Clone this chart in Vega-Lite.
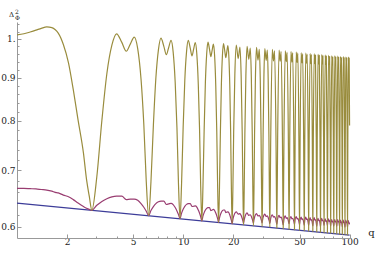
{
  "$schema": "https://vega.github.io/schema/vega-lite/v6.json",
  "width": 334,
  "height": 216,
  "autosize": {"type": "none"},
  "padding": {"left": 17, "top": 22, "right": 24, "bottom": 15},
  "background": "white",
  "config": {"view": {"stroke": null}},
  "title": {"text": "2", "subtitle": "Φ", "anchor": "start", "frame": "group", "orient": "top", "offset": 2, "dx": -2, "dy": 12.5, "fontSize": 6, "subtitleFontSize": 6, "font": "DejaVu Serif", "subtitleFont": "DejaVu Serif", "fontWeight": "normal", "subtitlePadding": 0.5, "color": "#222", "subtitleColor": "#222"},
  "datasets": {
    "blue": [{"q": 1, "b": 0.640}, {"q": 10, "b": 0.6128}, {"q": 100, "b": 0.5866}],
    "curves": [
      {"q":1,"g":1.011,"p":0.666},{"q":1.1,"g":1.014,"p":0.666},{"q":1.2,"g":1.019,"p":0.6655},{"q":1.3,"g":1.024,"p":0.665},{"q":1.4,"g":1.029,"p":0.664},{"q":1.51,"g":1.033,"p":0.663},{"q":1.62,"g":1.031,"p":0.661},{"q":1.7,"g":1.025,"p":0.659},{"q":1.77,"g":1.016,"p":0.658},{"q":1.9,"g":0.985,"p":0.654},{"q":2.04,"g":0.937,"p":0.651},{"q":2.18,"g":0.871,"p":0.646},{"q":2.33,"g":0.802,"p":0.64},{"q":2.51,"g":0.733,"p":0.634},{"q":2.62,"g":0.682,"p":0.631},{"q":2.72,"g":0.652,"p":0.629},{"q":2.82,"g":0.6276,"p":0.6276},
      {"q":3.02,"g":0.6875,"p":0.6361},{"q":3.24,"g":0.8015,"p":0.6427},{"q":3.47,"g":0.9097,"p":0.6476},{"q":3.72,"g":0.9831,"p":0.6508},{"q":3.97,"g":1.014,"p":0.652},{"q":4.27,"g":0.9905,"p":0.652},{"q":4.54,"g":0.967,"p":0.646},{"q":4.8,"g":0.986,"p":0.647},{"q":5.07,"g":1.005,"p":0.647},{"q":5.32,"g":0.9741,"p":0.6447},{"q":5.57,"g":0.8967,"p":0.639},{"q":5.79,"g":0.7923,"p":0.6327},{"q":5.99,"g":0.6782,"p":0.626},{"q":6.19,"g":0.6183,"p":0.6183},
      {"q":6.39,"g":0.6778,"p":0.6271},{"q":6.61,"g":0.791,"p":0.6339},{"q":6.84,"g":0.8984,"p":0.639},{"q":7.09,"g":0.9713,"p":0.6422},{"q":7.34,"g":1.002,"p":0.6435},{"q":7.64,"g":0.98,"p":0.6435},{"q":7.91,"g":0.958,"p":0.6375},{"q":8.17,"g":0.977,"p":0.6385},{"q":8.44,"g":0.996,"p":0.6395},{"q":8.69,"g":0.9654,"p":0.6374},{"q":8.94,"g":0.8888,"p":0.6322},{"q":9.16,"g":0.7855,"p":0.6264},{"q":9.36,"g":0.6726,"p":0.6204},{"q":9.56,"g":0.6133,"p":0.6133},
      {"q":9.76,"g":0.6726,"p":0.6223},{"q":9.98,"g":0.7855,"p":0.6292},{"q":10.21,"g":0.8927,"p":0.6344},{"q":10.46,"g":0.9654,"p":0.6377},{"q":10.71,"g":0.996,"p":0.639},{"q":11.01,"g":0.9755,"p":0.639},{"q":11.28,"g":0.955,"p":0.634},{"q":11.54,"g":0.9725,"p":0.6345},{"q":11.81,"g":0.99,"p":0.635},{"q":12.06,"g":0.9596,"p":0.633},{"q":12.31,"g":0.8835,"p":0.6279},{"q":12.53,"g":0.7809,"p":0.6224},{"q":12.73,"g":0.6687,"p":0.6166},{"q":12.93,"g":0.6098,"p":0.6098},
      {"q":13.13,"g":0.6689,"p":0.6176},{"q":13.35,"g":0.7813,"p":0.6236},{"q":13.58,"g":0.8881,"p":0.628},{"q":13.83,"g":0.9605,"p":0.6309},{"q":14.08,"g":0.991,"p":0.632},{"q":14.38,"g":0.972,"p":0.632},{"q":14.65,"g":0.953,"p":0.627},{"q":14.91,"g":0.9695,"p":0.628},{"q":15.18,"g":0.986,"p":0.629},{"q":15.43,"g":0.9557,"p":0.6272},{"q":15.68,"g":0.8799,"p":0.6229},{"q":15.9,"g":0.7776,"p":0.6181},{"q":16.1,"g":0.6658,"p":0.613},{"q":16.3,"g":0.6071,"p":0.6071},
      {"q":16.5,"g":0.666,"p":0.6144},{"q":16.72,"g":0.7781,"p":0.6201},{"q":16.95,"g":0.8844,"p":0.6242},{"q":17.2,"g":0.9566,"p":0.627},{"q":17.45,"g":0.987,"p":0.628},{"q":17.75,"g":0.9685,"p":0.628},{"q":18.02,"g":0.95,"p":0.6235},{"q":18.28,"g":0.966,"p":0.6245},{"q":18.55,"g":0.982,"p":0.625},{"q":18.8,"g":0.9518,"p":0.6234},{"q":19.05,"g":0.8764,"p":0.6194},{"q":19.27,"g":0.7747,"p":0.615},{"q":19.47,"g":0.6634,"p":0.6104},{"q":19.67,"g":0.605,"p":0.605},
      {"q":19.87,"g":0.6636,"p":0.612},{"q":20.09,"g":0.7751,"p":0.6174},{"q":20.42,"g":0.9074,"p":0.6226},{"q":20.82,"g":0.983,"p":0.625},{"q":21.39,"g":0.948,"p":0.621},{"q":21.92,"g":0.978,"p":0.622},{"q":22.29,"g":0.903,"p":0.6186},{"q":22.62,"g":0.7719,"p":0.6136},{"q":22.84,"g":0.6613,"p":0.6097},{"q":23.04,"g":0.6032,"p":0.6052},
      {"q":23.24,"g":0.6616,"p":0.6114},{"q":23.46,"g":0.7728,"p":0.6162},{"q":23.79,"g":0.9046,"p":0.6209},{"q":24.19,"g":0.98,"p":0.623},{"q":24.76,"g":0.946,"p":0.619},{"q":25.29,"g":0.975,"p":0.62},{"q":25.66,"g":0.9003,"p":0.6171},{"q":25.99,"g":0.7696,"p":0.6128},{"q":26.21,"g":0.6595,"p":0.6095},{"q":26.41,"g":0.6016,"p":0.6056},
      {"q":26.61,"g":0.6598,"p":0.6113},{"q":26.83,"g":0.7705,"p":0.6158},{"q":27.16,"g":0.9019,"p":0.62},{"q":27.56,"g":0.977,"p":0.622},{"q":28.13,"g":0.944,"p":0.618},{"q":28.66,"g":0.972,"p":0.619},{"q":29.03,"g":0.8976,"p":0.6164},{"q":29.36,"g":0.7675,"p":0.6126},{"q":29.58,"g":0.6578,"p":0.6097},{"q":29.78,"g":0.6002,"p":0.6062},
      {"q":29.98,"g":0.6581,"p":0.6114},{"q":30.2,"g":0.7684,"p":0.6154},{"q":30.53,"g":0.8992,"p":0.6192},{"q":30.93,"g":0.974,"p":0.621},{"q":31.5,"g":0.943,"p":0.617},{"q":32.03,"g":0.97,"p":0.618},{"q":32.4,"g":0.8958,"p":0.6154},{"q":32.73,"g":0.766,"p":0.6115},{"q":32.95,"g":0.6565,"p":0.6085},{"q":33.15,"g":0.599,"p":0.605},
      {"q":33.57,"g":0.7669,"p":0.6143},{"q":34.3,"g":0.972,"p":0.62},{"q":34.87,"g":0.942,"p":0.616},{"q":35.4,"g":0.968,"p":0.617},{"q":36.1,"g":0.7644,"p":0.6105},{"q":36.52,"g":0.5979,"p":0.6039},
      {"q":36.94,"g":0.7653,"p":0.6133},{"q":37.67,"g":0.97,"p":0.619},{"q":38.24,"g":0.941,"p":0.615},{"q":38.77,"g":0.966,"p":0.616},{"q":39.47,"g":0.763,"p":0.6095},{"q":39.89,"g":0.5969,"p":0.6029},
      {"q":40.31,"g":0.7639,"p":0.6123},{"q":41.04,"g":0.968,"p":0.618},{"q":41.61,"g":0.94,"p":0.614},{"q":42.14,"g":0.964,"p":0.615},{"q":42.84,"g":0.7616,"p":0.61},{"q":43.26,"g":0.596,"p":0.605},
      {"q":43.68,"g":0.7625,"p":0.6124},{"q":44.41,"g":0.966,"p":0.617},{"q":44.98,"g":0.939,"p":0.613},{"q":45.51,"g":0.963,"p":0.614},{"q":46.21,"g":0.7607,"p":0.6091},{"q":46.63,"g":0.5951,"p":0.6041},
      {"q":47.05,"g":0.7616,"p":0.6121},{"q":47.78,"g":0.965,"p":0.617},{"q":48.35,"g":0.938,"p":0.613},{"q":48.88,"g":0.962,"p":0.614},{"q":49.58,"g":0.7598,"p":0.6087},{"q":50,"g":0.5944,"p":0.6034},
      {"q":50.42,"g":0.7603,"p":0.6112},{"q":51.15,"g":0.963,"p":0.616},{"q":51.72,"g":0.937,"p":0.612},{"q":52.25,"g":0.96,"p":0.613},{"q":52.95,"g":0.7585,"p":0.6078},{"q":53.37,"g":0.5936,"p":0.6026},
      {"q":53.79,"g":0.7594,"p":0.6109},{"q":54.52,"g":0.962,"p":0.616},{"q":55.09,"g":0.936,"p":0.612},{"q":55.62,"g":0.959,"p":0.613},{"q":56.32,"g":0.7576,"p":0.6075},{"q":56.74,"g":0.5929,"p":0.6019},
      {"q":57.16,"g":0.7585,"p":0.61},{"q":57.89,"g":0.961,"p":0.615},{"q":58.46,"g":0.935,"p":0.611},{"q":58.99,"g":0.958,"p":0.612},{"q":59.69,"g":0.7569,"p":0.6067},{"q":60.11,"g":0.5923,"p":0.6013},
      {"q":60.53,"g":0.7578,"p":0.6098},{"q":61.26,"g":0.96,"p":0.615},{"q":61.83,"g":0.935,"p":0.611},{"q":62.36,"g":0.957,"p":0.612},{"q":63.06,"g":0.756,"p":0.6063},{"q":63.48,"g":0.5916,"p":0.6006},
      {"q":63.9,"g":0.7569,"p":0.6089},{"q":64.63,"g":0.959,"p":0.614},{"q":65.2,"g":0.934,"p":0.61},{"q":65.73,"g":0.956,"p":0.611},{"q":66.43,"g":0.7553,"p":0.6055},{"q":66.85,"g":0.591,"p":0.6},
      {"q":67.27,"g":0.7562,"p":0.6087},{"q":68,"g":0.958,"p":0.614},{"q":68.57,"g":0.934,"p":0.61},{"q":69.1,"g":0.955,"p":0.611},{"q":69.8,"g":0.7545,"p":0.6068},{"q":70.22,"g":0.5905,"p":0.6025},
      {"q":70.64,"g":0.7554,"p":0.609},{"q":71.37,"g":0.957,"p":0.613},{"q":71.94,"g":0.933,"p":0.609},{"q":72.47,"g":0.954,"p":0.61},{"q":73.17,"g":0.7538,"p":0.606},{"q":73.59,"g":0.59,"p":0.602},
      {"q":74.01,"g":0.7547,"p":0.6088},{"q":74.74,"g":0.956,"p":0.613},{"q":75.31,"g":0.933,"p":0.609},{"q":75.84,"g":0.953,"p":0.61},{"q":76.54,"g":0.7531,"p":0.6058},{"q":76.96,"g":0.5895,"p":0.6015},
      {"q":77.38,"g":0.754,"p":0.608},{"q":78.11,"g":0.955,"p":0.612},{"q":78.68,"g":0.932,"p":0.608},{"q":79.21,"g":0.952,"p":0.609},{"q":79.91,"g":0.7524,"p":0.605},{"q":80.33,"g":0.589,"p":0.601},
      {"q":80.75,"g":0.7537,"p":0.6078},{"q":81.48,"g":0.955,"p":0.612},{"q":82.05,"g":0.932,"p":0.608},{"q":82.58,"g":0.952,"p":0.609},{"q":83.28,"g":0.7521,"p":0.6048},{"q":83.7,"g":0.5886,"p":0.6006},
      {"q":84.12,"g":0.753,"p":0.6077},{"q":84.85,"g":0.954,"p":0.612},{"q":85.42,"g":0.931,"p":0.608},{"q":85.95,"g":0.951,"p":0.609},{"q":86.65,"g":0.7514,"p":0.6046},{"q":87.07,"g":0.5881,"p":0.6001},
      {"q":87.49,"g":0.7523,"p":0.6069},{"q":88.22,"g":0.953,"p":0.611},{"q":88.79,"g":0.931,"p":0.607},{"q":89.32,"g":0.95,"p":0.608},{"q":90.02,"g":0.7507,"p":0.6039},{"q":90.44,"g":0.5877,"p":0.5997},
      {"q":90.86,"g":0.7521,"p":0.6067},{"q":91.59,"g":0.953,"p":0.611},{"q":92.16,"g":0.93,"p":0.607},{"q":92.69,"g":0.95,"p":0.608},{"q":93.39,"g":0.7505,"p":0.6037},{"q":93.81,"g":0.5873,"p":0.5993},
      {"q":94.23,"g":0.7514,"p":0.6066},{"q":94.96,"g":0.952,"p":0.611},{"q":95.53,"g":0.93,"p":0.607},{"q":96.06,"g":0.949,"p":0.608},{"q":96.76,"g":0.7498,"p":0.6035},{"q":97.18,"g":0.5869,"p":0.5989},
      {"q":97.6,"g":0.7512,"p":0.6058},{"q":98.33,"g":0.952,"p":0.61},{"q":98.9,"g":0.93,"p":0.606},{"q":99.43,"g":0.949,"p":0.607},{"q":100,"g":0.79,"p":0.604}
    ]
  },
  "encoding": {
    "x": {
      "field": "q",
      "type": "quantitative",
      "scale": {"type": "log", "domain": [1, 102], "nice": false},
      "axis": {
        "values": [2, 3, 4, 5, 6, 7, 8, 9, 10, 20, 30, 40, 50, 60, 70, 80, 90, 100],
        "labelExpr": "indexof([2, 5, 10, 20, 50, 100], datum.value) >= 0 ? '' + datum.value : ''",
        "tickSize": {"condition": {"test": "indexof([2, 5, 10, 20, 50, 100], datum.value) >= 0", "value": -4}, "value": -2},
        "grid": false,
        "domainColor": "#999999",
        "tickColor": "#999999",
        "labelFont": "DejaVu Serif",
        "labelFontSize": 9,
        "labelColor": "#222222",
        "labelPadding": 3,
        "labelFlush": false,
        "labelOverlap": false,
        "title": "q",
        "titleFont": "DejaVu Serif",
        "titleFontSize": 10,
        "titleFontWeight": "normal",
        "titleColor": "#222222",
        "titleX": 354,
        "titleY": -3,
        "titleAlign": "center",
        "titleBaseline": "alphabetic",
        "titleAngle": 0
      }
    }
  },
  "layer": [
    {
      "data": {"name": "blue"},
      "mark": {"type": "line", "color": "#3D3D99", "strokeWidth": 1.2, "strokeJoin": "round"},
      "encoding": {
        "y": {
          "field": "b",
          "type": "quantitative",
          "scale": {"type": "log", "domain": [0.582, 1.047], "nice": false},
          "axis": {
            "values": [0.6, 0.62, 0.64, 0.66, 0.68, 0.7, 0.72, 0.74, 0.76, 0.78, 0.8, 0.82, 0.84, 0.86, 0.88, 0.9, 0.92, 0.94, 0.96, 0.98, 1, 1.02, 1.04],
            "labelExpr": "datum.value == 1 ? '1.' : (indexof([0.6, 0.7, 0.8, 0.9], datum.value) >= 0 ? format(datum.value, '.1f') : '')",
            "tickSize": {"condition": {"test": "indexof([0.6, 0.7, 0.8, 0.9, 1], datum.value) >= 0", "value": -4}, "value": -2},
            "grid": false,
            "domainColor": "#999999",
            "tickColor": "#999999",
            "labelFont": "DejaVu Serif",
            "labelFontSize": 9,
            "labelColor": "#222222",
            "labelPadding": 6,
            "labelFlush": false,
            "labelOverlap": false,
            "title": "Δ",
            "titleFont": "DejaVu Serif",
            "titleFontSize": 7,
            "titleFontWeight": "normal",
            "titleColor": "#222222",
            "titleAngle": 0,
            "titleAlign": "left",
            "titleBaseline": "alphabetic",
            "titleX": -8.5,
            "titleY": -5.5
          }
        }
      }
    },
    {
      "data": {"name": "curves"},
      "mark": {"type": "line", "color": "#993D71", "strokeWidth": 1.2, "strokeJoin": "round", "interpolate": "monotone"},
      "encoding": {"y": {"field": "p", "type": "quantitative"}}
    },
    {
      "data": {"name": "curves"},
      "mark": {"type": "line", "color": "#998C3D", "strokeWidth": 1.2, "strokeJoin": "round", "interpolate": "monotone"},
      "encoding": {"y": {"field": "g", "type": "quantitative"}}
    }
  ]
}
